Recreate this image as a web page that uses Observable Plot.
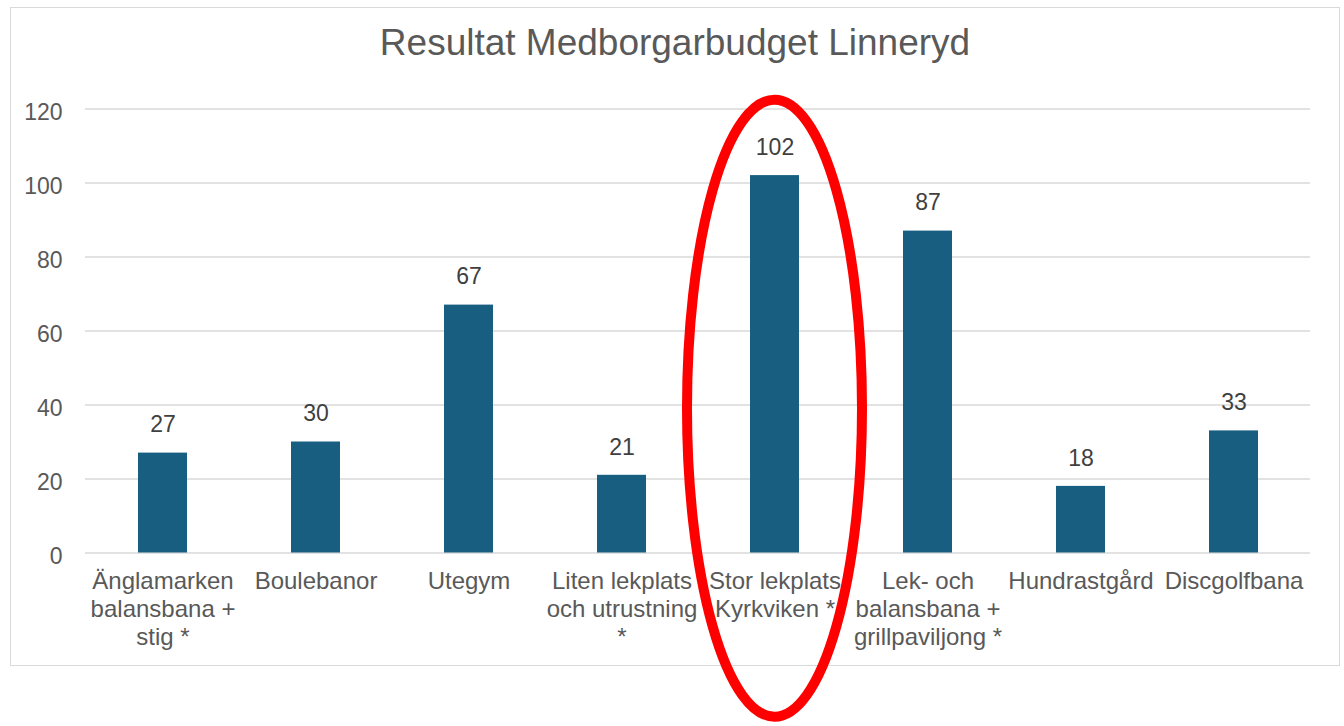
<!DOCTYPE html>
<html>
<head>
<meta charset="utf-8">
<script src="https://cdn.jsdelivr.net/npm/d3@7"></script>
<script src="https://cdn.jsdelivr.net/npm/@observablehq/plot@0.6"></script>
<style>
  html, body { margin: 0; padding: 0; background: #fff; }
  #wrap { position: relative; width: 1344px; height: 726px; overflow: hidden; font-family: "Liberation Sans", Arial, sans-serif; }
  #frame { position: absolute; left: 10px; top: 7px; width: 1328px; height: 657px; border: 1.5px solid #d9d9d9; }
  #title { position: absolute; left: 10px; width: 1330px; top: 21px; text-align: center; font-size: 37px; color: #595959; line-height: 43px; }
  #chart { position: absolute; left: 0; top: 0; }
</style>
</head>
<body>
<div id="wrap">
  <div id="frame"></div>
  <div id="title">Resultat Medborgarbudget Linneryd</div>
  <div id="chart"></div>
</div>
<script>
const categories = [
  "Änglamarken balansbana + stig *",
  "Boulebanor",
  "Utegym",
  "Liten lekplats och utrustning *",
  "Stor lekplats Kyrkviken *",
  "Lek- och balansbana + grillpaviljong *",
  "Hundrastgård",
  "Discgolfbana"
];
const labelLines = [
  "Änglamarken\nbalansbana +\nstig *",
  "Boulebanor",
  "Utegym",
  "Liten lekplats\noch utrustning\n*",
  "Stor lekplats\nKyrkviken *",
  "Lek- och\nbalansbana +\ngrillpaviljong *",
  "Hundrastgård",
  "Discgolfbana"
];
const values = [27, 30, 67, 21, 102, 87, 18, 33];
const yTicks = [0, 20, 40, 60, 80, 100, 120];
const highlighted = "Stor lekplats Kyrkviken *";

const data = categories.map((c, i) => ({category: c, value: values[i]}));
const labelOf = new Map(categories.map((c, i) => [c, labelLines[i]]));

const plot = Plot.plot({
  width: 1344,
  height: 726,
  marginTop: 108.5,
  marginBottom: 173.5,
  marginLeft: 85,
  marginRight: 34,
  style: {fontFamily: '"Liberation Sans", Arial, sans-serif', background: "transparent", overflow: "visible"},
  x: {domain: categories, padding: 0, label: null},
  y: {domain: [0, 120], label: null},
  marks: [
    Plot.gridY(yTicks, {stroke: "#d9d9d9", strokeOpacity: 1, strokeWidth: 1.5}),
    Plot.axisY(yTicks, {tickSize: 0, tickPadding: 23, fontSize: 23, fill: "#595959", dy: 4, label: null}),
    Plot.axisX({tickSize: 0, tickPadding: 16, fontSize: 24, fill: "#595959", lineAnchor: "top", lineHeight: 1.17, tickFormat: d => labelOf.get(d), label: null}),
    Plot.barY(data, {x: "category", y: "value", fill: "#175e80", insetLeft: 52, insetRight: 52}),
    Plot.text(data, {x: "category", y: "value", text: d => String(d.value), dy: -28, fontSize: 23, fill: "#404040"})
  ]
});

document.getElementById("chart").appendChild(plot);

// Red highlight ellipse around the selected category
const xs = plot.scale("x"), ys = plot.scale("y");
const cx = xs.apply(highlighted) + xs.bandwidth / 2;
const cy = ys.apply(39);
d3.select(plot).append("ellipse")
  .attr("cx", cx).attr("cy", cy)
  .attr("rx", 87.5).attr("ry", 308.5)
  .attr("fill", "none").attr("stroke", "#ff0000").attr("stroke-width", 10);
</script>
</body>
</html>
